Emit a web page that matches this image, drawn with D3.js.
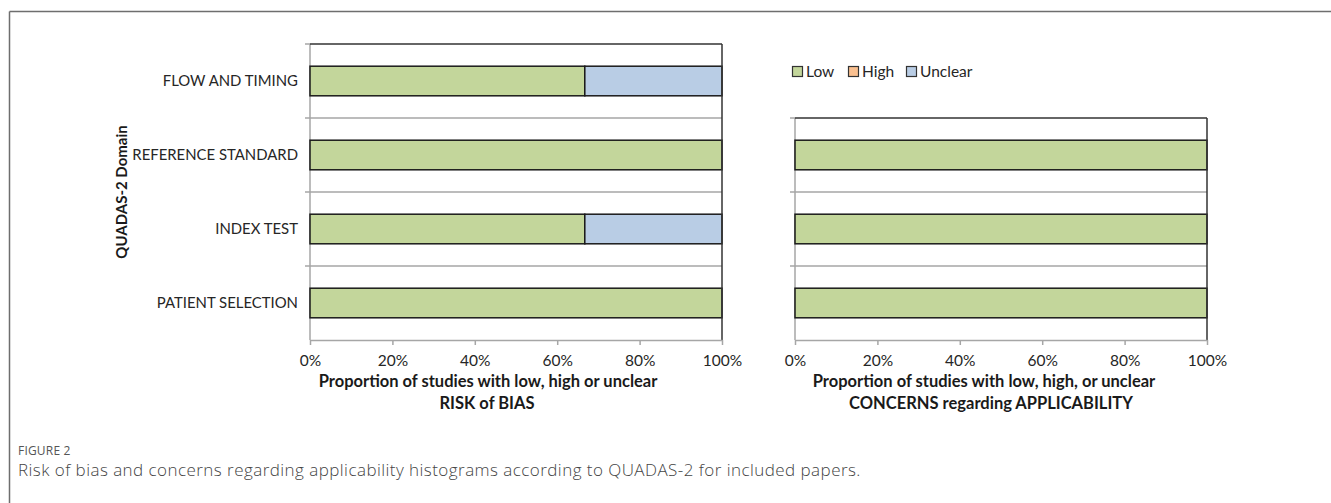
<!DOCTYPE html>
<html>
<head>
<meta charset="utf-8">
<script src="https://cdn.jsdelivr.net/npm/d3@7"></script>
<style>
  html, body { margin: 0; padding: 0; background: #fff; }
  svg { display: block; }
</style>
</head>
<body>
<svg id="chart" width="1331" height="503"></svg>
<script>
// ---- data ----
const domains = ["FLOW AND TIMING", "REFERENCE STANDARD", "INDEX TEST", "PATIENT SELECTION"];
const riskLow = [66.7, 100, 66.7, 100];
const riskHigh = [0, 0, 0, 0];
const riskUnclear = [33.3, 0, 33.3, 0];

const applicDomains = ["REFERENCE STANDARD", "INDEX TEST", "PATIENT SELECTION"];
const applicLow = [100, 100, 100];
const applicHigh = [0, 0, 0];
const applicUnclear = [0, 0, 0];

const seriesNames = ["Low", "High", "Unclear"];
const seriesColors = ["#c3d69b", "#fac090", "#b9cde5"];
const xTicks = [0, 20, 40, 60, 80, 100];

const yTitle = "QUADAS-2 Domain";
const leftTitle = ["Proportion of studies with low, high or unclear", "RISK of BIAS"];
const rightTitle = ["Proportion of studies with low, high, or unclear", "CONCERNS regarding APPLICABILITY"];
const figLabel = "FIGURE 2";
const caption = "Risk of bias and concerns regarding applicability histograms according to QUADAS-2 for included papers.";

// ---- drawing ----
const svg = d3.select("#chart");
const FONT = "Lato, 'Open Sans', sans-serif";

// outer frame
svg.append("line").attr("x1", 9.5).attr("x2", 1331).attr("y1", 11.5).attr("y2", 11.5)
  .attr("stroke", "#6e6e6e").attr("stroke-width", 1.5);
svg.append("line").attr("x1", 9.5).attr("x2", 9.5).attr("y1", 11.5).attr("y2", 503)
  .attr("stroke", "#6e6e6e").attr("stroke-width", 1.5);

function panel(opts) {
  const { cats, low, high, unclear, x0, x1, y0, y1, showLabels, title, titleX } = opts;
  const g = svg.append("g");
  const x = d3.scaleLinear().domain([0, 100]).range([x0, x1]);
  const y = d3.scaleBand().domain(cats).range([y0, y1]).paddingInner(0.6).paddingOuter(0.3);
  const step = y.step();
  const gap = (step - y.bandwidth()) / 2;

  g.append("rect").attr("x", x0).attr("y", y0).attr("width", x1 - x0).attr("height", y1 - y0).attr("fill", "#fff");

  const bounds = cats.map(c => y(c) - gap).concat([y1]);
  g.selectAll(".sep").data(bounds.slice(1, -1)).enter().append("line")
    .attr("x1", x0).attr("x2", x1).attr("y1", d => d).attr("y2", d => d)
    .attr("stroke", "#a6a6a6").attr("stroke-width", 1.5);

  g.append("line").attr("x1", x0).attr("x2", x0).attr("y1", y0).attr("y2", y1)
    .attr("stroke", "#a6a6a6").attr("stroke-width", 1.5);
  g.selectAll(".ltick").data(bounds.slice(0, -1)).enter().append("line")
    .attr("x1", x0 - 5).attr("x2", x0).attr("y1", d => d).attr("y2", d => d)
    .attr("stroke", "#a6a6a6").attr("stroke-width", 1.5);

  const rows = cats.map((c, i) => ({ cat: c, vals: [low[i], high[i], unclear[i]] }));
  rows.forEach(r => {
    let acc = 0;
    r.vals.forEach((v, k) => {
      if (v > 0) {
        g.append("rect")
          .attr("x", x(acc)).attr("y", y(r.cat))
          .attr("width", x(acc + v) - x(acc)).attr("height", y.bandwidth())
          .attr("fill", seriesColors[k]).attr("stroke", "#1a1a1a").attr("stroke-width", 1.5);
      }
      acc += v;
    });
  });

  g.append("line").attr("x1", x0).attr("x2", x1).attr("y1", y0).attr("y2", y0)
    .attr("stroke", "#333").attr("stroke-width", 1.5);
  g.append("line").attr("x1", x1).attr("x2", x1).attr("y1", y0).attr("y2", y1)
    .attr("stroke", "#333").attr("stroke-width", 1.5);

  const ax = d3.axisBottom(x).tickValues(xTicks).tickFormat(d => d + "%").tickSize(5).tickSizeOuter(0);
  const axg = g.append("g").attr("transform", `translate(0,${y1})`).call(ax);
  axg.select(".domain").attr("stroke", "#a6a6a6").attr("stroke-width", 1.5);
  axg.selectAll(".tick line").attr("stroke", "#a6a6a6").attr("stroke-width", 1.5);
  axg.selectAll(".tick text").attr("font-family", FONT).attr("font-size", 15.5)
    .attr("fill", "#262626").attr("dy", 0).attr("y", 26);

  if (showLabels) {
    g.selectAll(".cat").data(cats).enter().append("text")
      .attr("x", x0 - 12).attr("y", d => y(d) + y.bandwidth() / 2)
      .attr("dy", "0.35em").attr("text-anchor", "end")
      .attr("font-family", FONT).attr("font-size", 14.9).attr("fill", "#262626")
      .text(d => d);
  }

  g.selectAll(".ttl").data(title).enter().append("text")
    .attr("x", (d, i) => titleX[i]).attr("y", (d, i) => 387 + i * 22)
    .attr("text-anchor", "middle").attr("font-family", FONT).attr("font-weight", "bold")
    .attr("font-size", 16.5).attr("fill", "#1a1a1a").text(d => d);
}

panel({ cats: domains, low: riskLow, high: riskHigh, unclear: riskUnclear,
  x0: 310, x1: 722, y0: 44, y1: 340, showLabels: true, title: leftTitle, titleX: [488, 487] });
panel({ cats: applicDomains, low: applicLow, high: applicHigh, unclear: applicUnclear,
  x0: 795, x1: 1207, y0: 118, y1: 340, showLabels: false, title: rightTitle, titleX: [984, 991] });

svg.append("text").attr("transform", "translate(127,192) rotate(-90)")
  .attr("text-anchor", "middle").attr("font-family", FONT).attr("font-weight", "bold")
  .attr("font-size", 15).attr("fill", "#1a1a1a").text(yTitle);

const legX = [792, 848, 906];
const leg = svg.append("g");
seriesNames.forEach((n, i) => {
  leg.append("rect").attr("x", legX[i] + 0.5).attr("y", 66.5).attr("width", 10).attr("height", 10)
    .attr("fill", seriesColors[i]).attr("stroke", "#333").attr("stroke-width", 1.2);
  leg.append("text").attr("x", legX[i] + 14).attr("y", 72).attr("dy", "0.35em")
    .attr("font-family", FONT).attr("font-size", 15.5).attr("fill", "#262626").text(n);
});

svg.append("text").attr("x", 18).attr("y", 455).attr("font-family", "'Open Sans', sans-serif")
  .attr("font-size", 12).attr("fill", "#555").attr("letter-spacing", 0.2).text(figLabel);
svg.append("text").attr("x", 18).attr("y", 476).attr("font-family", "'Open Sans', sans-serif")
  .attr("font-weight", 300).attr("font-size", 17).attr("letter-spacing", 0.45)
  .attr("fill", "#444").text(caption);
</script>
</body>
</html>
